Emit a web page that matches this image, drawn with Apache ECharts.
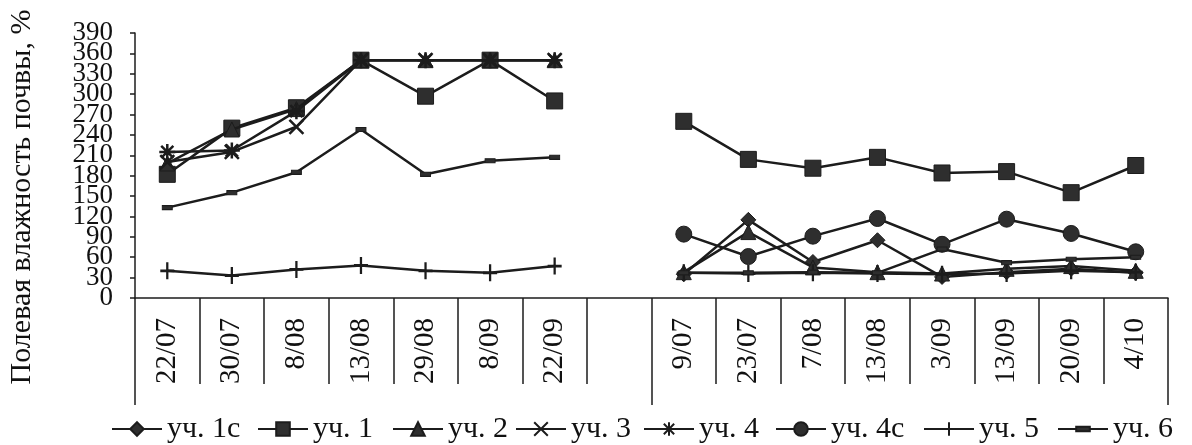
<!DOCTYPE html>
<html>
<head>
<meta charset="utf-8">
<script src="https://cdn.jsdelivr.net/npm/echarts@6/dist/echarts.min.js"></script>
<style>
html,body{margin:0;padding:0;background:#fff;}
#chart{width:1192px;height:445px;}
</style>
</head>
<body>
<div id="chart"></div>
<script>
// ---- data ----
const categories = ['22/07','30/07','8/08','13/08','29/08','8/09','22/09','',
                    '9/07','23/07','7/08','13/08','3/09','13/09','20/09','4/10'];
const yTicks = {min: 0, max: 390, step: 30};
const seriesNames = ['уч. 1с','уч. 1','уч. 2','уч. 3','уч. 4','уч. 4с','уч. 5','уч. 6'];
const u1c = [null,null,null,null,null,null,null,null, 35,115,53,85,31,38,43,37];
const u1  = [182,250,280,350,297,350,290,null, 260,204,191,207,184,186,155,195];
const u2  = [198,248,278,350,350,350,350,null, 38,97,45,38,36,43,47,40];
const u3  = [200,215,252,350,350,350,350,null, null,null,null,null,null,null,null,null];
const u4  = [215,217,275,350,350,350,350,null, null,null,null,null,null,null,null,null];
const u4c = [null,null,null,null,null,null,null,null, 94,61,91,117,79,116,95,68];
const u5  = [40,33,42,48,40,37,47,null, 37,36,37,36,35,36,40,38];
const u6  = [133,155,185,248,182,202,207,null, 37,37,38,37,72,52,57,60];
const seriesData = [u1c,u1,u2,u3,u4,u4c,u5,u6];

// ---- styles ----
const INK = '#1c1c1c';
const FONT = '"Liberation Serif","Times New Roman",serif';
const symbols = [
  {symbol:'diamond', size:15, stroke:false},
  {symbol:'rect', size:16, stroke:false},
  {symbol:'triangle', size:15, stroke:false},
  {symbol:'path://M0,0L10,10M10,0L0,10', size:14, stroke:true},
  {symbol:'path://M5,0L5,10M0,5L10,5M1.2,1.2L8.8,8.8M8.8,1.2L1.2,8.8', size:16, stroke:true},
  {symbol:'circle', size:16, stroke:false},
  {symbol:'path://M5,0L5,10M0,5L10,5', size:[14,17], stroke:true},
  {symbol:'path://M0,0L0.01,0M0,10L0.01,10M0,3.3L10,3.3L10,6.7L0,6.7Z', size:[10,12], stroke:false}
];
const legendLeft = [111, 257, 392, 515, 643, 775, 923, 1057];

const series = seriesNames.map((name, i) => ({
  name: name,
  type: 'line',
  data: seriesData[i],
  connectNulls: false,
  symbol: symbols[i].symbol,
  symbolSize: symbols[i].size,
  showAllSymbol: true,
  lineStyle: {color: INK, width: 2.5},
  itemStyle: symbols[i].stroke
    ? {color: INK, borderColor: INK, borderWidth: 2.5}
    : {color: '#2e2e2e', borderColor: INK, borderWidth: 1},
  emphasis: {disabled: true},
  z: 2 + i
}));

// labels next to min / max are drawn by a second, overlapping axis so that
// the library's min/max overlap rule does not drop them
const edgeTicks = [yTicks.min + yTicks.step, yTicks.max - yTicks.step];
const yLabelStyle = {margin: 22, fontSize: 27, fontFamily: FONT, color: '#111', hideOverlap: false};

const chart = echarts.init(document.getElementById('chart'));
chart.setOption({
  backgroundColor: '#ffffff',
  animation: false,
  grid: {left: 135, right: 24, top: 33, bottom: 147, containLabel: false},
  xAxis: [{
    type: 'category',
    data: categories,
    boundaryGap: true,
    axisLine: {show: true, lineStyle: {color: INK, width: 1.5}},
    axisTick: {show: true, interval: 0, length: 86, alignWithLabel: false, lineStyle: {color: INK, width: 1.5}},
    axisLabel: {interval: 0, rotate: 90, margin: 20, fontSize: 29, fontFamily: FONT, color: '#111'},
    splitLine: {show: false}
  }, {
    type: 'value',
    position: 'bottom',
    min: 0, max: 16, interval: 8,
    axisLine: {show: false},
    axisTick: {show: true, length: 107, lineStyle: {color: INK, width: 1.5}},
    axisLabel: {show: false},
    splitLine: {show: false}
  }],
  yAxis: [{
    type: 'value',
    position: 'left',
    min: yTicks.min, max: yTicks.max, interval: yTicks.step,
    axisLine: {show: true, lineStyle: {color: INK, width: 1.5}},
    axisTick: {show: true, length: 5, lineStyle: {color: INK, width: 1.5}},
    axisLabel: Object.assign({}, yLabelStyle, {
      showMinLabel: true, showMaxLabel: true,
      formatter: v => edgeTicks.indexOf(v) >= 0 ? '' : String(v)
    }),
    splitLine: {show: false}
  }, {
    type: 'value',
    position: 'left',
    offset: 0,
    min: yTicks.min, max: yTicks.max, interval: yTicks.step,
    axisLine: {show: false},
    axisTick: {show: false},
    axisLabel: Object.assign({}, yLabelStyle, {
      showMinLabel: false, showMaxLabel: false,
      formatter: v => edgeTicks.indexOf(v) >= 0 ? String(v) : ''
    }),
    splitLine: {show: false}
  }],
  legend: seriesNames.map((n, i) => ({
    data: [n],
    left: legendLeft[i],
    top: 414,
    itemWidth: 50,
    itemHeight: 17,
    padding: 0,
    textStyle: {fontSize: 30, fontFamily: FONT, color: '#111'},
    selectedMode: false
  })),
  graphic: [{
    type: 'text',
    x: 22, y: 197,
    rotation: Math.PI / 2,
    style: {
      text: 'Полевая влажность почвы, %',
      font: '30px "Liberation Serif", serif',
      fill: '#111',
      align: 'center',
      verticalAlign: 'middle'
    }
  }],
  series: series
});
</script>
</body>
</html>
